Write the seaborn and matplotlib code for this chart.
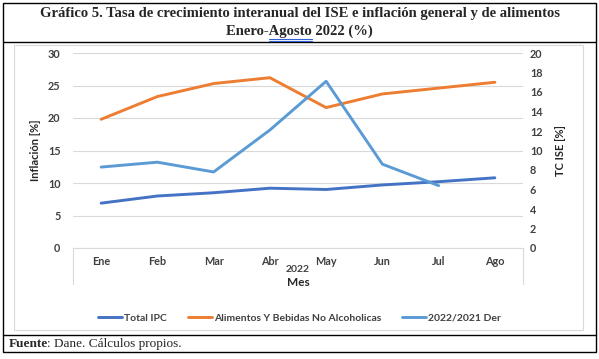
import matplotlib
matplotlib.use("Agg")
import matplotlib.pyplot as plt
from matplotlib.patches import Rectangle
from matplotlib.lines import Line2D
import seaborn as sns
import pandas as pd
import numpy as np

meses = ["Ene", "Feb", "Mar", "Abr", "May", "Jun", "Jul", "Ago"]
total_ipc = [6.9, 8.0, 8.5, 9.2, 9.0, 9.7, 10.2, 10.8]
alimentos = [19.8, 23.3, 25.3, 26.2, 21.6, 23.7, 24.6, 25.5]
ise = [8.3, 8.8, 7.8, 12.1, 17.1, 8.6, 6.4, np.nan]

c_ipc = "#4472C4"
c_ali = "#ED7D31"
c_ise = "#5B9BD5"

sns.set_style("white")
plt.rcParams["font.family"] = ["Lato", "DejaVu Sans"]

W, H = 599, 359
fig = plt.figure(figsize=(W / 100, H / 100), dpi=100)

def px(x, y):
    return x / W, 1 - y / H

# marco de la tabla
fig.add_artist(Rectangle(px(3, 352), 593 / W, 349 / H, transform=fig.transFigure,
                         fill=False, lw=1.0, ec="black"))
fig.add_artist(Line2D([3 / W, 596 / W], [1 - 42 / H] * 2, transform=fig.transFigure, color="black", lw=1.0))
fig.add_artist(Line2D([3 / W, 596 / W], [1 - 335 / H] * 2, transform=fig.transFigure, color="black", lw=1.0))
fig.add_artist(Rectangle(px(14, 330), 569 / W, 285 / H, transform=fig.transFigure,
                         fill=False, lw=0.8, ec="#D9D9D9"))

serif = dict(family="Liberation Serif", weight="bold", fontsize=10.5)
fig.text(0.5, 1 - 14 / H, "Gráfico 5. Tasa de crecimiento interanual del ISE e inflación general y de alimentos",
         ha="center", va="center", **serif)
t2 = fig.text(0.5, 1 - 31 / H, "Enero-Agosto 2022 (%)", ha="center", va="center", **serif)

# subrayado azul bajo "Agosto" (corrector de Word)
r = fig.canvas.get_renderer()
full = t2.get_window_extent(r)
tmp = fig.text(0, 0, "Enero-", **serif)
w_pre = tmp.get_window_extent(r).width
tmp.set_text("Enero-Agosto")
w_ago = tmp.get_window_extent(r).width
tmp.remove()
x0 = (full.x0 + w_pre) / W
x1 = (full.x0 + w_ago) / W
for yy in [38.5, 40.5]:
    fig.add_artist(Line2D([x0, x1], [1 - yy / H] * 2, transform=fig.transFigure, color="#2F5FD0", lw=0.8))

fig.text(9 / W, 1 - 344 / H, "Fuente", ha="left", va="center", family="Liberation Serif", weight="bold", fontsize=9.5)
fig.text(47 / W, 1 - 344 / H, ": Dane. Cálculos propios.", ha="left", va="center", family="Liberation Serif", fontsize=9.5)

df = pd.DataFrame({"Mes": meses, "Total IPC": total_ipc,
                   "Alimentos Y Bebidas No Alcoholicas": alimentos,
                   "2022/2021 Der": ise})

lw = 2.1
ax = fig.add_axes([73 / W, 1 - 248 / H, 450 / W, 195 / H])
sns.lineplot(data=df, x="Mes", y="Total IPC", ax=ax, color=c_ipc, lw=lw, sort=False)
sns.lineplot(data=df, x="Mes", y="Alimentos Y Bebidas No Alcoholicas", ax=ax, color=c_ali, lw=lw, sort=False)
ax.set_ylim(0, 30)
ax.set_xlim(-0.5, 7.5)
ax.set_yticks(range(0, 31, 5))
ax.grid(axis="y", color="#D9D9D9", lw=0.8)
ax.set_axisbelow(True)
for s in ["top", "right", "left"]:
    ax.spines[s].set_visible(False)
ax.spines["bottom"].set_color("#D9D9D9")
ax.tick_params(axis="both", length=0, labelsize=7.8, labelcolor="#404040")
for t in ax.get_yticklabels() + ax.get_xticklabels():
    t.set_fontweight("bold")
ax.tick_params(axis="y", pad=9)
ax.tick_params(axis="x", pad=6)
ax.set_xlabel("")
ax.set_ylabel("Inflación [%]", fontsize=8, weight="bold", color="#262626", labelpad=5)

ax2 = ax.twinx()
sns.lineplot(data=df, x="Mes", y="2022/2021 Der", ax=ax2, color=c_ise, lw=lw, sort=False)
ax2.set_ylim(0, 20)
ax2.set_yticks(range(0, 21, 2))
for s in ax2.spines.values():
    s.set_visible(False)
ax2.tick_params(axis="y", length=0, labelsize=7.8, labelcolor="#404040", pad=5)
for t in ax2.get_yticklabels():
    t.set_fontweight("bold")
ax2.set_ylabel("TC ISE [%]", fontsize=8, weight="bold", color="#262626", labelpad=9)

# caja de categorias en dos niveles
for xx in [73, 523]:
    fig.add_artist(Line2D([xx / W] * 2, [1 - 248 / H, 1 - 284 / H], transform=fig.transFigure, color="#D9D9D9", lw=0.8))
fig.text(0.5 * (73 + 523) / W, 1 - 269 / H, "2022", ha="center", va="center", fontsize=7.5, weight="bold", color="#404040")
fig.text(0.5 * (73 + 523) / W, 1 - 282 / H, "Mes", ha="center", va="center", fontsize=8.5, weight="bold", color="#262626")

handles = [Line2D([], [], color=c_ipc, lw=lw), Line2D([], [], color=c_ali, lw=lw), Line2D([], [], color=c_ise, lw=lw)]
labels = ["Total IPC", "Alimentos Y Bebidas No Alcoholicas", "2022/2021 Der"]
leg = fig.legend(handles, labels, loc="center", bbox_to_anchor=(0.5, 1 - 318 / H), ncol=3, frameon=False,
                 fontsize=7.5, handlelength=2.3, columnspacing=2.0, handletextpad=0.2)
for t in leg.get_texts():
    t.set_fontweight("bold")
    t.set_color("#404040")

fig.savefig("out.png", dpi=100)
